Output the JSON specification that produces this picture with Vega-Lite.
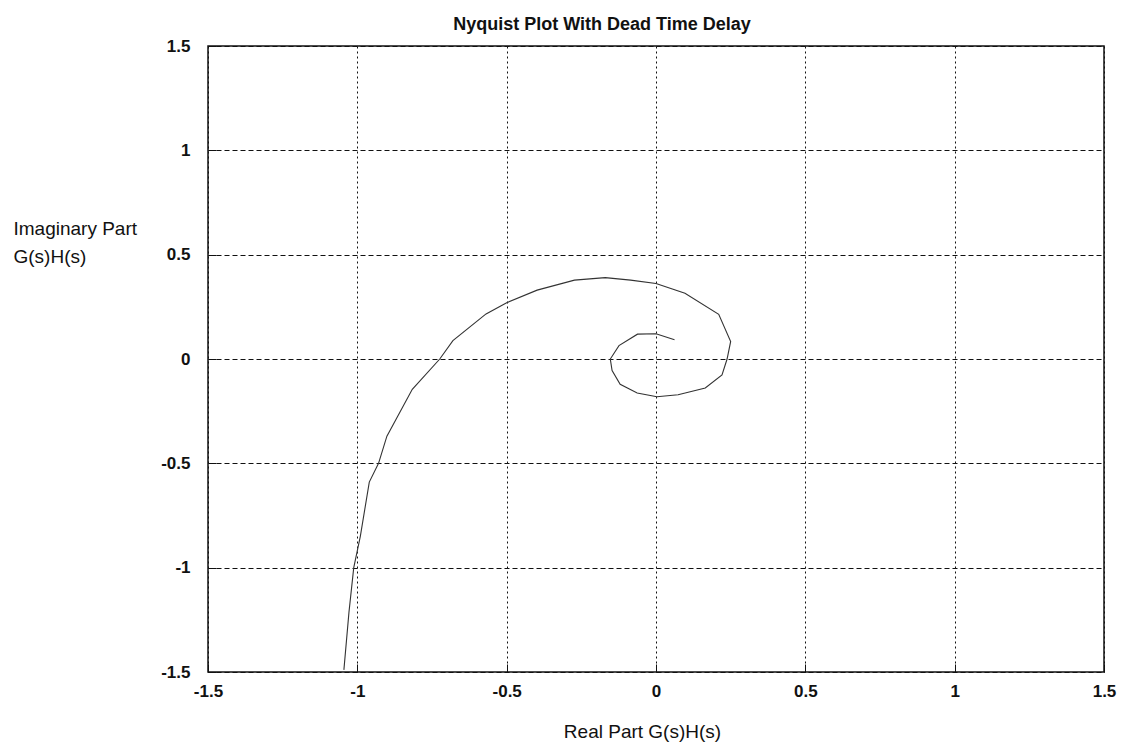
{
  "$schema": "https://vega.github.io/schema/vega-lite/v6.json",
  "autosize": {"type": "none"},
  "padding": {"left": 208, "top": 46, "right": 19, "bottom": 75},
  "width": 896,
  "height": 626,
  "background": "white",
  "config": {
    "font": "Liberation Sans",
    "view": {"stroke": "#111", "strokeWidth": 1.5}
  },
  "title": {
    "text": "Nyquist Plot With Dead Time Delay",
    "fontSize": 18,
    "fontWeight": "bold",
    "font": "Liberation Sans",
    "color": "#111",
    "anchor": "middle",
    "frame": "group",
    "dx": -54,
    "dy": 29,
    "baseline": "alphabetic",
    "offset": 18
  },
  "data": {
    "values": [
      {"i": 1, "re": -1.045, "im": -1.49},
      {"i": 2, "re": -1.028, "im": -1.213},
      {"i": 3, "re": -1.012, "im": -1.0},
      {"i": 4, "re": -0.99, "im": -0.85},
      {"i": 5, "re": -0.96, "im": -0.59},
      {"i": 6, "re": -0.929, "im": -0.5},
      {"i": 7, "re": -0.901, "im": -0.37},
      {"i": 8, "re": -0.816, "im": -0.145},
      {"i": 9, "re": -0.724, "im": 0.0},
      {"i": 10, "re": -0.68, "im": 0.088},
      {"i": 11, "re": -0.569, "im": 0.216},
      {"i": 12, "re": -0.5, "im": 0.27},
      {"i": 13, "re": -0.398, "im": 0.33},
      {"i": 14, "re": -0.273, "im": 0.378},
      {"i": 15, "re": -0.17, "im": 0.39},
      {"i": 16, "re": -0.085, "im": 0.378},
      {"i": 17, "re": 0.0, "im": 0.362},
      {"i": 18, "re": 0.097, "im": 0.315},
      {"i": 19, "re": 0.21, "im": 0.214},
      {"i": 20, "re": 0.25, "im": 0.084},
      {"i": 21, "re": 0.238, "im": 0.0},
      {"i": 22, "re": 0.221, "im": -0.076},
      {"i": 23, "re": 0.165, "im": -0.139},
      {"i": 24, "re": 0.074, "im": -0.171},
      {"i": 25, "re": 0.003, "im": -0.181},
      {"i": 26, "re": -0.063, "im": -0.163},
      {"i": 27, "re": -0.12, "im": -0.121},
      {"i": 28, "re": -0.147, "im": -0.055},
      {"i": 29, "re": -0.153, "im": 0.0},
      {"i": 30, "re": -0.124, "im": 0.064},
      {"i": 31, "re": -0.062, "im": 0.119},
      {"i": 32, "re": 0.0, "im": 0.121},
      {"i": 33, "re": 0.062, "im": 0.092}
    ]
  },
  "layer": [
    {
      "mark": {"type": "line", "color": "#333", "strokeWidth": 1.1},
      "encoding": {
        "x": {
          "field": "re", "type": "quantitative",
          "scale": {"domain": [-1.5, 1.5], "nice": false, "zero": false},
          "axis": {
            "values": [-1.5, -1, -0.5, 0, 0.5, 1, 1.5],
            "title": "Real Part G(s)H(s)",
            "titleFont": "Liberation Sans",
            "titleFontSize": 19,
            "titleFontWeight": "normal",
            "titleColor": "#111",
            "titleX": 434,
            "titleY": 65,
            "titleAlign": "center",
            "titleBaseline": "alphabetic",
            "labelFont": "Liberation Sans",
            "labelFontSize": 17,
            "labelFontWeight": "bold",
            "labelColor": "#111",
            "labelPadding": 19,
            "labelFlush": false,
            "labelOverlap": false,
            "labelBound": false,
            "labelExpr": "'' + datum.value",
            "domain": false,
            "ticks": true,
            "tickSize": -8,
            "tickColor": "#111",
            "grid": true,
            "gridColor": "#111",
            "gridDash": [2, 3],
            "gridWidth": 1
          }
        },
        "y": {
          "field": "im", "type": "quantitative",
          "scale": {"domain": [-1.5, 1.5], "nice": false, "zero": false},
          "axis": {
            "values": [-1.5, -1, -0.5, 0, 0.5, 1, 1.5],
            "title": ["Imaginary Part", "G(s)H(s)"],
            "titleFont": "Liberation Sans",
            "titleFontSize": 19,
            "titleFontWeight": "normal",
            "titleColor": "#111",
            "titleAngle": 0,
            "titleAlign": "left",
            "titleBaseline": "alphabetic",
            "titleX": -195,
            "titleY": 188,
            "titleLineHeight": 28,
            "labelFont": "Liberation Sans",
            "labelFontSize": 17,
            "labelFontWeight": "bold",
            "labelColor": "#111",
            "labelPadding": 26,
            "labelFlush": false,
            "labelOverlap": false,
            "labelBound": false,
            "labelExpr": "'' + datum.value",
            "domain": false,
            "ticks": true,
            "tickSize": -8,
            "tickColor": "#111",
            "grid": true,
            "gridColor": "#111",
            "gridDash": [5, 3],
            "gridWidth": 1
          }
        },
        "order": {"field": "i", "type": "quantitative"}
      }
    }
  ]
}
